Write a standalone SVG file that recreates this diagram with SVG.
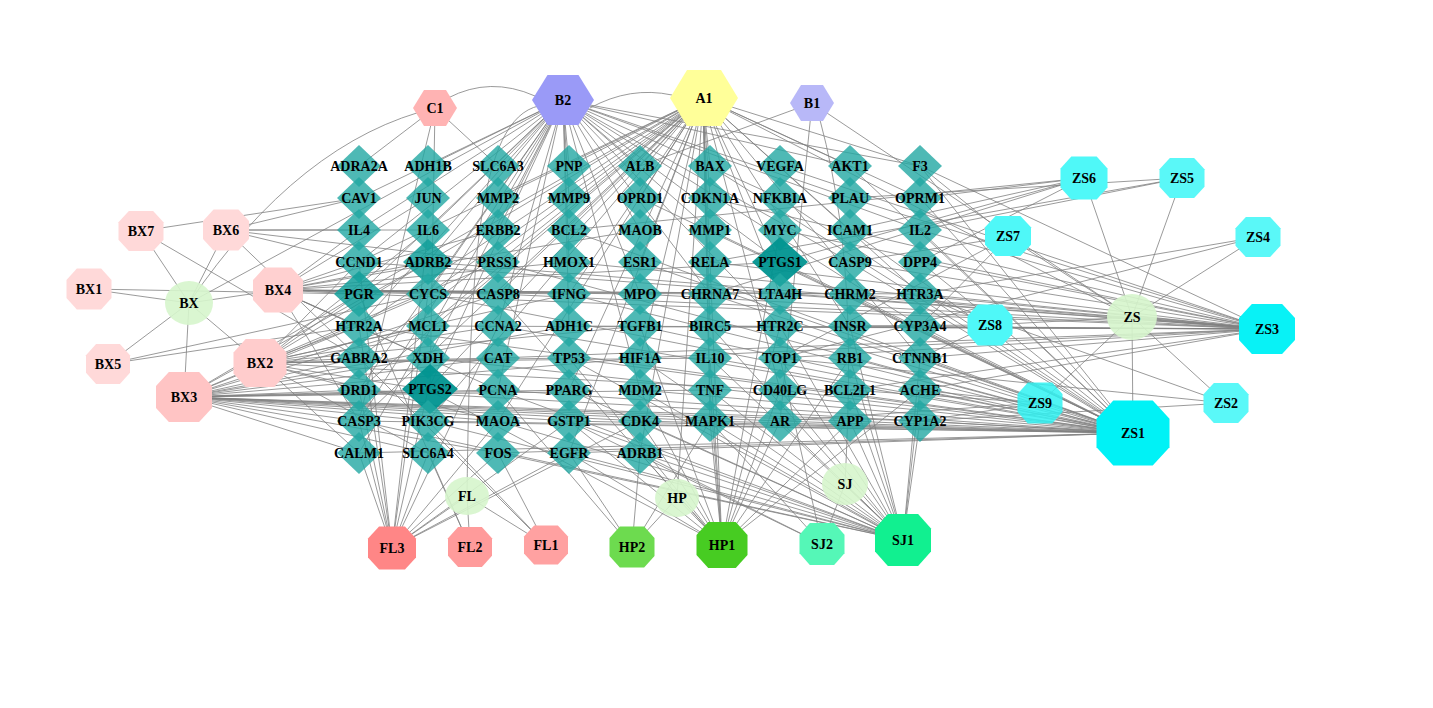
<svg xmlns="http://www.w3.org/2000/svg" xmlns:xlink="http://www.w3.org/1999/xlink" width="1433" height="708" viewBox="0 0 1433 708">
<style>
text{font-family:"Liberation Serif","Times New Roman",serif;font-weight:bold;font-size:14px;text-anchor:middle;fill:#000}
#edges path{fill:none;stroke:#808080;stroke-width:.8}
.t{fill:#22a7a2;fill-opacity:.8}
.t2{fill:#129f9a;fill-opacity:.85}
.t3{fill:#009390;fill-opacity:.95}
.herb{fill:#d6f5cc;fill-opacity:.9}
</style>
<defs>
<path id="d" d="M0-21L22 0 0 21-22 0Z"/>
<path id="dM" d="M0-23L25 0 0 23-25 0Z"/>
<path id="dL" d="M0-25L28 0 0 25-28 0Z"/>
<path id="o" d="M-.5-.22L-.27-.5H.27L.5-.22V.22L.27 .5H-.27L-.5 .22Z"/>
</defs>
<rect width="1433" height="708" fill="#fff"/>
<g id="edges">
<path d="M703 98L359 262M703 98L359 294M703 98L359 326M703 98L359 358M703 98L359 390M703 98L359 421M703 98L428 262M703 98L428 294M703 98L428 326M703 98L428 390M703 98L498 198M703 98L498 262M703 98L498 294M703 98L498 421M703 98L569 166M703 98L569 230M703 98L569 294M703 98L569 390M703 98L640 166M703 98L640 198M703 98L640 262M703 98L640 358M703 98L640 453M703 98L710 166M703 98L710 198M703 98L710 262M703 98L710 326M703 98L710 390M703 98L710 421M703 98L780 262M703 98L780 294M703 98L780 390M703 98L850 166M703 98L850 230M703 98L850 326M703 98L920 198M703 98L920 294M703 98L920 358M703 98L428 421M703 98L569 453M703 98L920 166M703 98L1132 317M703 98L677 498"/>
<path d="M563 100L359 198M563 100L359 230M563 100L359 262M563 100L359 294M563 100L359 326M563 100L359 390M563 100L359 421M563 100L359 453M563 100L428 166M563 100L428 230M563 100L428 262M563 100L428 294M563 100L428 358M563 100L428 390M563 100L498 166M563 100L498 230M563 100L498 326M563 100L498 390M563 100L569 166M563 100L569 198M563 100L569 262M563 100L569 326M563 100L640 166M563 100L640 230M563 100L640 294M563 100L640 390M563 100L710 230M563 100L710 294M563 100L780 198M563 100L780 262M563 100L780 326M563 100L850 198M563 100L850 262M563 100L920 230M563 100L920 326M563 100L920 166M563 100L850 166M563 100L189 303"/>
<path d="M435 108L359 166M435 108L498 166M435 108L430 389M435 108L359 421M448 98Q490 76 535 96M590 108Q630 86 672 95M435 108Q300 140 189 303M545 105C480 110 470 250 467 496"/>
<path d="M812 103L640 166M812 103L780 421M812 103L1132 317M820 120C855 250 850 380 845 484"/>
<path d="M1133 433L920 166M1133 433L920 198M1133 433L920 230M1133 433L920 262M1133 433L920 326M1133 433L920 358M1133 433L920 390M1133 433L920 421M1133 433L850 166M1133 433L850 230M1133 433L850 262M1133 433L850 294M1133 433L850 358M1133 433L850 421M1133 433L780 198M1133 433L780 262M1133 433L780 326M1133 433L780 390M1133 433L780 421M1133 433L710 166M1133 433L710 230M1133 433L710 294M1133 433L710 358M1133 433L710 421M1133 433L640 198M1133 433L640 262M1133 433L640 326M1133 433L640 390M1133 433L640 421M1133 433L569 230M1133 433L569 294M1133 433L569 358M1133 433L569 421M1133 433L498 262M1133 433L498 326M1133 433L498 390M1133 433L428 294M1133 433L428 358M1133 433L428 421M1133 433L359 326M1133 433L359 390M1133 433L359 421M1133 433L359 453M1133 433L498 453M1133 433L569 453"/>
<path d="M1267 329L920 166M1267 329L920 230M1267 329L920 262M1267 329L920 294M1267 329L920 358M1267 329L920 390M1267 329L850 198M1267 329L850 262M1267 329L850 294M1267 329L850 326M1267 329L780 230M1267 329L780 294M1267 329L780 358M1267 329L710 262M1267 329L710 326M1267 329L640 294M1267 329L640 358M1267 329L569 262M1267 329L569 326M1267 329L498 294M1267 329L498 358M1267 329L428 262M1267 329L428 326M1267 329L359 294M1267 329L359 262M1267 329L780 166M1267 329L850 390M1267 329L710 198"/>
<path d="M1084 178L920 198M1084 178L850 230M1084 178L780 262M1084 178L710 294M1084 178L569 230M1084 178L920 262M1182 178L920 230M1182 178L850 198M1182 178L710 262M1008 237L920 166M1008 237L850 262M1008 237L920 326M1008 237L780 358M1258 237L920 294M1258 237L780 358M990 325L920 294M990 325L920 358M990 325L850 326M1226 403L920 294M1226 403L920 421M1226 403L780 358M1040 403L920 390M1040 403L920 421M1040 403L850 390M1040 403L780 421"/>
<path d="M1132 317L1133 433M1132 317L1226 403M1132 317L1267 329M1132 317L1258 237M1132 317L1182 178M1132 317L1084 178M1132 317L1008 237M1132 317L990 325M1132 317L1040 403"/>
<path d="M184 397L359 294M184 397L359 326M184 397L359 358M184 397L359 390M184 397L359 421M184 397L359 453M184 397L428 262M184 397L428 294M184 397L428 326M184 397L428 358M184 397L428 390M184 397L428 421M184 397L428 453M184 397L498 294M184 397L498 358M184 397L498 390M184 397L498 421M184 397L498 453M184 397L569 326M184 397L569 390M184 397L569 421M184 397L640 358M184 397L640 421M184 397L710 390M184 397L710 421M184 397L780 421M184 397L850 421M184 397L920 421"/>
<path d="M260 363L359 262M260 363L359 294M260 363L359 326M260 363L359 358M260 363L359 390M260 363L428 230M260 363L428 262M260 363L428 326M260 363L428 390M260 363L428 453M260 363L498 262M260 363L498 326M260 363L498 358M260 363L498 421M260 363L569 294M260 363L569 358M260 363L640 326M260 363L710 358M260 363L780 390M260 363L359 453"/>
<path d="M278 290L359 230M278 290L359 262M278 290L359 294M278 290L359 326M278 290L428 198M278 290L428 262M278 290L428 294M278 290L428 358M278 290L498 230M278 290L498 294M278 290L498 390M278 290L569 262M278 290L569 294M278 290L640 230M278 290L640 294M278 290L710 294M278 290L780 262M278 290L850 294M278 290L920 294M278 290L359 421"/>
<path d="M226 230L359 198M226 230L359 230M226 230L428 230M226 230L359 262M226 230L359 358M226 230L498 262M141 231L359 198M141 231L359 358M89 289L359 294M108 364L359 326M108 364L428 294"/>
<path d="M189 303L89 289M189 303L260 363M189 303L184 397M189 303L278 290M189 303L108 364M189 303L226 230M189 303L141 231"/>
<path d="M392 548L359 453M392 548L359 421M392 548L359 390M392 548L359 326M392 548L428 453M392 548L428 390M392 548L428 294M392 548L498 421M392 548L498 453M392 548L569 453M392 548L569 421M392 548L640 421M392 548L428 230M392 548L498 326M392 548L359 262M470 547L428 453M470 547L359 294M546 545L428 421M546 545L498 453M546 545L359 358M467 496L546 545M467 496L470 547M467 496L392 548"/>
<path d="M722 545L569 421M722 545L640 421M722 545L710 421M722 545L780 421M722 545L850 421M722 545L640 390M722 545L710 390M722 545L780 390M722 545L569 358M722 545L710 358M722 545L640 326M722 545L780 326M722 545L498 294M722 545L710 262M722 545L780 230M722 545L640 453M722 545L569 453M722 545L428 390M722 545L850 358M722 545L920 390M632 547L640 453M632 547L710 421M632 547L569 453M632 547L498 390M677 498L722 545M677 498L632 547"/>
<path d="M903 540L920 421M903 540L920 390M903 540L920 358M903 540L850 421M903 540L850 390M903 540L850 358M903 540L850 326M903 540L780 421M903 540L780 390M903 540L780 358M903 540L780 326M903 540L710 421M903 540L710 390M903 540L710 358M903 540L710 326M903 540L640 421M903 540L640 390M903 540L640 358M903 540L569 421M903 540L569 390M903 540L569 358M903 540L498 421M903 540L498 390M903 540L428 421M903 540L359 421M903 540L640 453M903 540L569 453M903 540L498 453M822 544L710 421M822 544L780 358M822 544L569 421M822 544L640 453M845 484L903 540M845 484L822 544"/>
</g>
<g id="targets">
<g id="ADRA2A"><use xlink:href="#d" x="359" y="166" class="t"/><text x="359" y="170.5">ADRA2A</text></g>
<g id="ADH1B"><use xlink:href="#d" x="428" y="166" class="t"/><text x="428" y="170.5">ADH1B</text></g>
<g id="SLC6A3"><use xlink:href="#d" x="498" y="166" class="t"/><text x="498" y="170.5">SLC6A3</text></g>
<g id="PNP"><use xlink:href="#d" x="569" y="166" class="t"/><text x="569" y="170.5">PNP</text></g>
<g id="ALB"><use xlink:href="#d" x="640" y="166" class="t"/><text x="640" y="170.5">ALB</text></g>
<g id="BAX"><use xlink:href="#d" x="710" y="166" class="t"/><text x="710" y="170.5">BAX</text></g>
<g id="VEGFA"><use xlink:href="#d" x="780" y="166" class="t"/><text x="780" y="170.5">VEGFA</text></g>
<g id="AKT1"><use xlink:href="#d" x="850" y="166" class="t"/><text x="850" y="170.5">AKT1</text></g>
<g id="F3"><use xlink:href="#d" x="920" y="166" class="t"/><text x="920" y="170.5">F3</text></g>
<g id="CAV1"><use xlink:href="#d" x="359" y="198" class="t"/><text x="359" y="202.5">CAV1</text></g>
<g id="JUN"><use xlink:href="#d" x="428" y="198" class="t"/><text x="428" y="202.5">JUN</text></g>
<g id="MMP2"><use xlink:href="#d" x="498" y="198" class="t"/><text x="498" y="202.5">MMP2</text></g>
<g id="MMP9"><use xlink:href="#d" x="569" y="198" class="t"/><text x="569" y="202.5">MMP9</text></g>
<g id="OPRD1"><use xlink:href="#d" x="640" y="198" class="t"/><text x="640" y="202.5">OPRD1</text></g>
<g id="CDKN1A"><use xlink:href="#d" x="710" y="198" class="t"/><text x="710" y="202.5">CDKN1A</text></g>
<g id="NFKBIA"><use xlink:href="#d" x="780" y="198" class="t"/><text x="780" y="202.5">NFKBIA</text></g>
<g id="PLAU"><use xlink:href="#d" x="850" y="198" class="t"/><text x="850" y="202.5">PLAU</text></g>
<g id="OPRM1"><use xlink:href="#d" x="920" y="198" class="t"/><text x="920" y="202.5">OPRM1</text></g>
<g id="IL4"><use xlink:href="#d" x="359" y="230" class="t"/><text x="359" y="234.5">IL4</text></g>
<g id="IL6"><use xlink:href="#d" x="428" y="230" class="t"/><text x="428" y="234.5">IL6</text></g>
<g id="ERBB2"><use xlink:href="#d" x="498" y="230" class="t"/><text x="498" y="234.5">ERBB2</text></g>
<g id="BCL2"><use xlink:href="#d" x="569" y="230" class="t"/><text x="569" y="234.5">BCL2</text></g>
<g id="MAOB"><use xlink:href="#d" x="640" y="230" class="t"/><text x="640" y="234.5">MAOB</text></g>
<g id="MMP1"><use xlink:href="#d" x="710" y="230" class="t"/><text x="710" y="234.5">MMP1</text></g>
<g id="MYC"><use xlink:href="#d" x="780" y="230" class="t"/><text x="780" y="234.5">MYC</text></g>
<g id="ICAM1"><use xlink:href="#d" x="850" y="230" class="t"/><text x="850" y="234.5">ICAM1</text></g>
<g id="IL2"><use xlink:href="#d" x="920" y="230" class="t"/><text x="920" y="234.5">IL2</text></g>
<g id="CCND1"><use xlink:href="#d" x="359" y="262" class="t"/><text x="359" y="266.5">CCND1</text></g>
<g id="ADRB2"><use xlink:href="#dM" x="428" y="262" class="t2"/><text x="428" y="266.5">ADRB2</text></g>
<g id="PRSS1"><use xlink:href="#d" x="498" y="262" class="t"/><text x="498" y="266.5">PRSS1</text></g>
<g id="HMOX1"><use xlink:href="#d" x="569" y="262" class="t"/><text x="569" y="266.5">HMOX1</text></g>
<g id="ESR1"><use xlink:href="#d" x="640" y="262" class="t"/><text x="640" y="266.5">ESR1</text></g>
<g id="RELA"><use xlink:href="#d" x="710" y="262" class="t"/><text x="710" y="266.5">RELA</text></g>
<g id="PTGS1"><use xlink:href="#dL" x="780" y="262" class="t3"/><text x="780" y="266.5">PTGS1</text></g>
<g id="CASP9"><use xlink:href="#d" x="850" y="262" class="t"/><text x="850" y="266.5">CASP9</text></g>
<g id="DPP4"><use xlink:href="#d" x="920" y="262" class="t"/><text x="920" y="266.5">DPP4</text></g>
<g id="PGR"><use xlink:href="#dM" x="359" y="294" class="t2"/><text x="359" y="298.5">PGR</text></g>
<g id="CYCS"><use xlink:href="#d" x="428" y="294" class="t"/><text x="428" y="298.5">CYCS</text></g>
<g id="CASP8"><use xlink:href="#d" x="498" y="294" class="t"/><text x="498" y="298.5">CASP8</text></g>
<g id="IFNG"><use xlink:href="#d" x="569" y="294" class="t"/><text x="569" y="298.5">IFNG</text></g>
<g id="MPO"><use xlink:href="#d" x="640" y="294" class="t"/><text x="640" y="298.5">MPO</text></g>
<g id="CHRNA7"><use xlink:href="#d" x="710" y="294" class="t"/><text x="710" y="298.5">CHRNA7</text></g>
<g id="LTA4H"><use xlink:href="#d" x="780" y="294" class="t"/><text x="780" y="298.5">LTA4H</text></g>
<g id="CHRM2"><use xlink:href="#d" x="850" y="294" class="t"/><text x="850" y="298.5">CHRM2</text></g>
<g id="HTR3A"><use xlink:href="#d" x="920" y="294" class="t"/><text x="920" y="298.5">HTR3A</text></g>
<g id="HTR2A"><use xlink:href="#d" x="359" y="326" class="t"/><text x="359" y="330.5">HTR2A</text></g>
<g id="MCL1"><use xlink:href="#d" x="428" y="326" class="t"/><text x="428" y="330.5">MCL1</text></g>
<g id="CCNA2"><use xlink:href="#d" x="498" y="326" class="t"/><text x="498" y="330.5">CCNA2</text></g>
<g id="ADH1C"><use xlink:href="#d" x="569" y="326" class="t"/><text x="569" y="330.5">ADH1C</text></g>
<g id="TGFB1"><use xlink:href="#d" x="640" y="326" class="t"/><text x="640" y="330.5">TGFB1</text></g>
<g id="BIRC5"><use xlink:href="#d" x="710" y="326" class="t"/><text x="710" y="330.5">BIRC5</text></g>
<g id="HTR2C"><use xlink:href="#d" x="780" y="326" class="t"/><text x="780" y="330.5">HTR2C</text></g>
<g id="INSR"><use xlink:href="#d" x="850" y="326" class="t"/><text x="850" y="330.5">INSR</text></g>
<g id="CYP3A4"><use xlink:href="#d" x="920" y="326" class="t"/><text x="920" y="330.5">CYP3A4</text></g>
<g id="GABRA2"><use xlink:href="#d" x="359" y="358" class="t"/><text x="359" y="362.5">GABRA2</text></g>
<g id="XDH"><use xlink:href="#d" x="428" y="358" class="t"/><text x="428" y="362.5">XDH</text></g>
<g id="CAT"><use xlink:href="#d" x="498" y="358" class="t"/><text x="498" y="362.5">CAT</text></g>
<g id="TP53"><use xlink:href="#d" x="569" y="358" class="t"/><text x="569" y="362.5">TP53</text></g>
<g id="HIF1A"><use xlink:href="#d" x="640" y="358" class="t"/><text x="640" y="362.5">HIF1A</text></g>
<g id="IL10"><use xlink:href="#d" x="710" y="358" class="t"/><text x="710" y="362.5">IL10</text></g>
<g id="TOP1"><use xlink:href="#d" x="780" y="358" class="t"/><text x="780" y="362.5">TOP1</text></g>
<g id="RB1"><use xlink:href="#d" x="850" y="358" class="t"/><text x="850" y="362.5">RB1</text></g>
<g id="CTNNB1"><use xlink:href="#d" x="920" y="358" class="t"/><text x="920" y="362.5">CTNNB1</text></g>
<g id="DRD1"><use xlink:href="#d" x="359" y="390" class="t"/><text x="359" y="394.5">DRD1</text></g>
<g id="PTGS2"><use xlink:href="#dL" x="430" y="389" class="t3"/><text x="430" y="393.5">PTGS2</text></g>
<g id="PCNA"><use xlink:href="#d" x="498" y="390" class="t"/><text x="498" y="394.5">PCNA</text></g>
<g id="PPARG"><use xlink:href="#d" x="569" y="390" class="t"/><text x="569" y="394.5">PPARG</text></g>
<g id="MDM2"><use xlink:href="#d" x="640" y="390" class="t"/><text x="640" y="394.5">MDM2</text></g>
<g id="TNF"><use xlink:href="#d" x="710" y="390" class="t"/><text x="710" y="394.5">TNF</text></g>
<g id="CD40LG"><use xlink:href="#d" x="780" y="390" class="t"/><text x="780" y="394.5">CD40LG</text></g>
<g id="BCL2L1"><use xlink:href="#d" x="850" y="390" class="t"/><text x="850" y="394.5">BCL2L1</text></g>
<g id="ACHE"><use xlink:href="#d" x="920" y="390" class="t"/><text x="920" y="394.5">ACHE</text></g>
<g id="CASP3"><use xlink:href="#d" x="359" y="421" class="t"/><text x="359" y="425.5">CASP3</text></g>
<g id="PIK3CG"><use xlink:href="#d" x="428" y="421" class="t"/><text x="428" y="425.5">PIK3CG</text></g>
<g id="MAOA"><use xlink:href="#d" x="498" y="421" class="t"/><text x="498" y="425.5">MAOA</text></g>
<g id="GSTP1"><use xlink:href="#d" x="569" y="421" class="t"/><text x="569" y="425.5">GSTP1</text></g>
<g id="CDK4"><use xlink:href="#d" x="640" y="421" class="t"/><text x="640" y="425.5">CDK4</text></g>
<g id="MAPK1"><use xlink:href="#d" x="710" y="421" class="t"/><text x="710" y="425.5">MAPK1</text></g>
<g id="AR"><use xlink:href="#d" x="780" y="421" class="t"/><text x="780" y="425.5">AR</text></g>
<g id="APP"><use xlink:href="#d" x="850" y="421" class="t"/><text x="850" y="425.5">APP</text></g>
<g id="CYP1A2"><use xlink:href="#d" x="920" y="421" class="t"/><text x="920" y="425.5">CYP1A2</text></g>
<g id="CALM1"><use xlink:href="#d" x="359" y="453" class="t"/><text x="359" y="457.5">CALM1</text></g>
<g id="SLC6A4"><use xlink:href="#d" x="428" y="453" class="t"/><text x="428" y="457.5">SLC6A4</text></g>
<g id="FOS"><use xlink:href="#d" x="498" y="453" class="t"/><text x="498" y="457.5">FOS</text></g>
<g id="EGFR"><use xlink:href="#d" x="569" y="453" class="t"/><text x="569" y="457.5">EGFR</text></g>
<g id="ADRB1"><use xlink:href="#d" x="640" y="453" class="t"/><text x="640" y="457.5">ADRB1</text></g>
</g>
<g id="shared">
<g id="C1"><polygon points="413,108 424,90 446,90 457,108 446,126 424,126" fill="#ffb3b3"/><text x="435" y="112.5">C1</text></g>
<g id="B2"><polygon points="532,100 547.5,75 578.5,75 594,100 578.5,125 547.5,125" fill="#9a9af7"/><text x="563" y="104.5">B2</text></g>
<g id="A1"><polygon points="670,98 687,70 721,70 738,98 721,126 687,126" fill="#ffff99"/><text x="704" y="102.5">A1</text></g>
<g id="B1"><polygon points="790,103 801,85 823,85 834,103 823,121 801,121" fill="#b8b8f8"/><text x="812" y="107.5">B1</text></g>
</g>
<g id="herbs">
<g id="BX"><ellipse cx="189" cy="303" rx="24" ry="22" class="herb"/><text x="189" y="307.5">BX</text></g>
<g id="ZS"><ellipse cx="1132" cy="317" rx="25" ry="23" class="herb"/><text x="1132" y="321.5">ZS</text></g>
<g id="FL"><ellipse cx="467" cy="496" rx="22" ry="19" class="herb"/><text x="467" y="500.5">FL</text></g>
<g id="HP"><ellipse cx="677" cy="498" rx="22" ry="19" class="herb"/><text x="677" y="502.5">HP</text></g>
<g id="SJ"><ellipse cx="845" cy="484" rx="23" ry="21" class="herb"/><text x="845" y="488.5">SJ</text></g>
</g>
<g id="compounds">
<g id="BX7"><use xlink:href="#o" transform="translate(141 231) scale(45 40)" fill="#ffd9d9"/><text x="141" y="235.5">BX7</text></g>
<g id="BX6"><use xlink:href="#o" transform="translate(226 230) scale(46 41)" fill="#ffd9d9"/><text x="226" y="234.5">BX6</text></g>
<g id="BX1"><use xlink:href="#o" transform="translate(89 289) scale(45 41)" fill="#ffd9d9"/><text x="89" y="293.5">BX1</text></g>
<g id="BX4"><use xlink:href="#o" transform="translate(278 290) scale(50 45)" fill="#ffd0d0"/><text x="278" y="294.5">BX4</text></g>
<g id="BX5"><use xlink:href="#o" transform="translate(108 364) scale(44 40)" fill="#ffd9d9"/><text x="108" y="368.5">BX5</text></g>
<g id="BX2"><use xlink:href="#o" transform="translate(260 363) scale(53 48)" fill="#ffcccc"/><text x="260" y="367.5">BX2</text></g>
<g id="BX3"><use xlink:href="#o" transform="translate(184 397) scale(56 50)" fill="#ffc4c4"/><text x="184" y="401.5">BX3</text></g>
<g id="ZS6"><use xlink:href="#o" transform="translate(1084 178) scale(47 43)" fill="#4ff8f8"/><text x="1084" y="182.5">ZS6</text></g>
<g id="ZS5"><use xlink:href="#o" transform="translate(1182 178) scale(45 40)" fill="#5af8f8"/><text x="1182" y="182.5">ZS5</text></g>
<g id="ZS7"><use xlink:href="#o" transform="translate(1008 236) scale(46 40)" fill="#4ff8f8"/><text x="1008" y="240.5">ZS7</text></g>
<g id="ZS4"><use xlink:href="#o" transform="translate(1258 237) scale(45 40)" fill="#5af8f8"/><text x="1258" y="241.5">ZS4</text></g>
<g id="ZS8"><use xlink:href="#o" transform="translate(990 325) scale(45 41)" fill="#4ff8f8"/><text x="990" y="329.5">ZS8</text></g>
<g id="ZS3"><use xlink:href="#o" transform="translate(1267 329) scale(56 50)" fill="#08f2f6"/><text x="1267" y="333.5">ZS3</text></g>
<g id="ZS9"><use xlink:href="#o" transform="translate(1040 403) scale(45 41)" fill="#30f2f2" fill-opacity=".85"/><text x="1040" y="407.5">ZS9</text></g>
<g id="ZS2"><use xlink:href="#o" transform="translate(1226 403) scale(45 40)" fill="#5af8f8"/><text x="1226" y="407.5">ZS2</text></g>
<g id="ZS1"><use xlink:href="#o" transform="translate(1133 433) scale(73 65)" fill="#00f2f6"/><text x="1133" y="437.5">ZS1</text></g>
<g id="FL3"><use xlink:href="#o" transform="translate(392 548) scale(48 43)" fill="#ff8686"/><text x="392" y="552.5">FL3</text></g>
<g id="FL2"><use xlink:href="#o" transform="translate(470 547) scale(44 40)" fill="#ff9b9b"/><text x="470" y="551.5">FL2</text></g>
<g id="FL1"><use xlink:href="#o" transform="translate(546 545) scale(44 39)" fill="#ffa1a1"/><text x="546" y="549.5">FL1</text></g>
<g id="HP2"><use xlink:href="#o" transform="translate(632 547) scale(45 41)" fill="#6ddb4f"/><text x="632" y="551.5">HP2</text></g>
<g id="HP1"><use xlink:href="#o" transform="translate(722 545) scale(51 46)" fill="#47cc22"/><text x="722" y="549.5">HP1</text></g>
<g id="SJ2"><use xlink:href="#o" transform="translate(822 544) scale(45 42)" fill="#55f7b7"/><text x="822" y="548.5">SJ2</text></g>
<g id="SJ1"><use xlink:href="#o" transform="translate(903 540) scale(56 52)" fill="#11f090"/><text x="903" y="544.5">SJ1</text></g>
</g>
</svg>
